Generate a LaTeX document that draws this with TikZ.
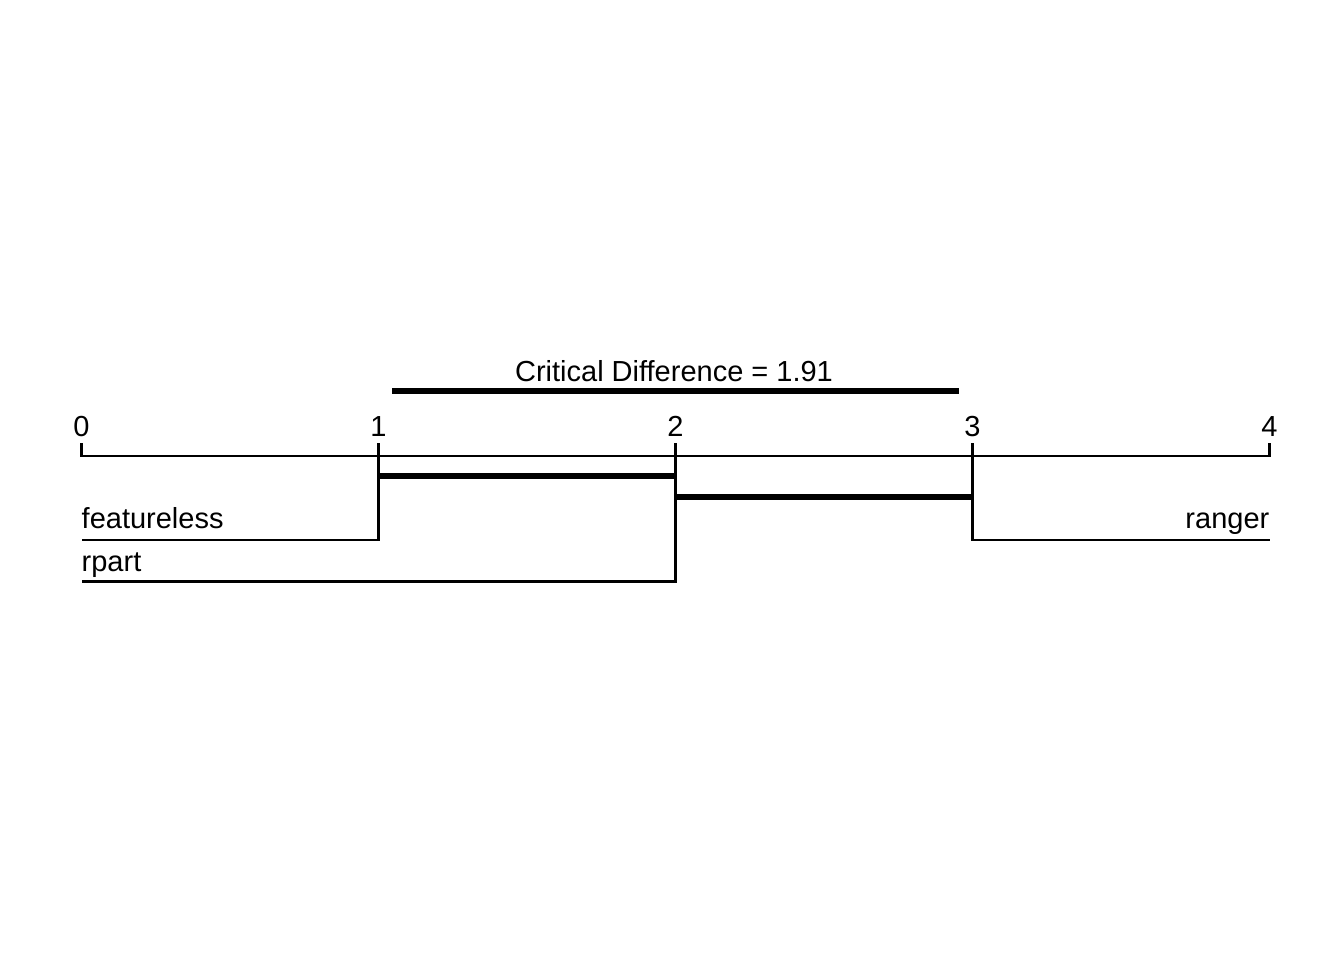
\documentclass[tikz,border=0pt]{standalone}
\usepackage{fontspec}
\setmainfont{Liberation Sans}
\begin{document}
\begin{tikzpicture}[x=1pt,y=-1pt,
  thin line/.style={line width=2.6pt,line cap=butt,line join=miter},
  thick bar/.style={line width=6pt,line cap=butt},
  lbl/.style={inner sep=0pt,font=\fontsize{29}{34}\selectfont}]
\useasboundingbox (0,0) rectangle (1344,960);
% axis coordinates
\coordinate (t0) at (81.5,456);
\coordinate (t1) at (378.5,456);
\coordinate (t2) at (675.5,456);
\coordinate (t3) at (972.5,456);
\coordinate (t4) at (1269.5,456);
\coordinate (u0) at (81.5,443);
\coordinate (u1) at (378.5,443);
\coordinate (u2) at (675.5,443);
\coordinate (u3) at (972.5,443);
\coordinate (u4) at (1269.5,443);
% axis
\draw[thin line] (u0) -- (t0) -- (t4) -- (u4);
\draw[thin line] (u1) -- (t1);
\draw[thin line] (u2) -- (t2);
\draw[thin line] (u3) -- (t3);
% tick labels
\node[lbl,anchor=base] (l0) at (81.5,436) {0};
\node[lbl,anchor=base] (l1) at (378.5,436) {1};
\node[lbl,anchor=base] (l2) at (675.5,436) {2};
\node[lbl,anchor=base] (l3) at (972.5,436) {3};
\node[lbl,anchor=base] (l4) at (1269.5,436) {4};
% critical difference
\coordinate (cdl) at (392,391);
\coordinate (cdr) at (959,391);
\draw[thick bar] (cdl) -- (cdr);
\node[lbl,anchor=base] (cdt) at (674,381) {Critical Difference = 1.91};
% treatment lines
\coordinate (f1) at (378.5,540);
\coordinate (f0) at (81.5,540);
\coordinate (r2) at (675.5,581.5);
\coordinate (r0) at (81.5,581.5);
\coordinate (g3) at (972.5,540);
\coordinate (g4) at (1269.5,540);
\draw[thin line] (u1) -- (f1) -- (f0);
\draw[thin line] (u2) -- (r2) -- (r0);
\draw[thin line] (u3) -- (g3) -- (g4);
\node[lbl,anchor=base west] (nf) at (81.5,528) {featureless};
\node[lbl,anchor=base west] (nr) at (81.5,571) {rpart};
\node[lbl,anchor=base east] (ng) at (1269.5,528) {ranger};
% clique bars
\coordinate (b1l) at (378.5,476);
\coordinate (b1r) at (675.5,476);
\coordinate (b2l) at (675.5,497);
\coordinate (b2r) at (972.5,497);
\draw[thick bar] (b1l) -- (b1r);
\draw[thick bar] (b2l) -- (b2r);
\end{tikzpicture}
\end{document}
